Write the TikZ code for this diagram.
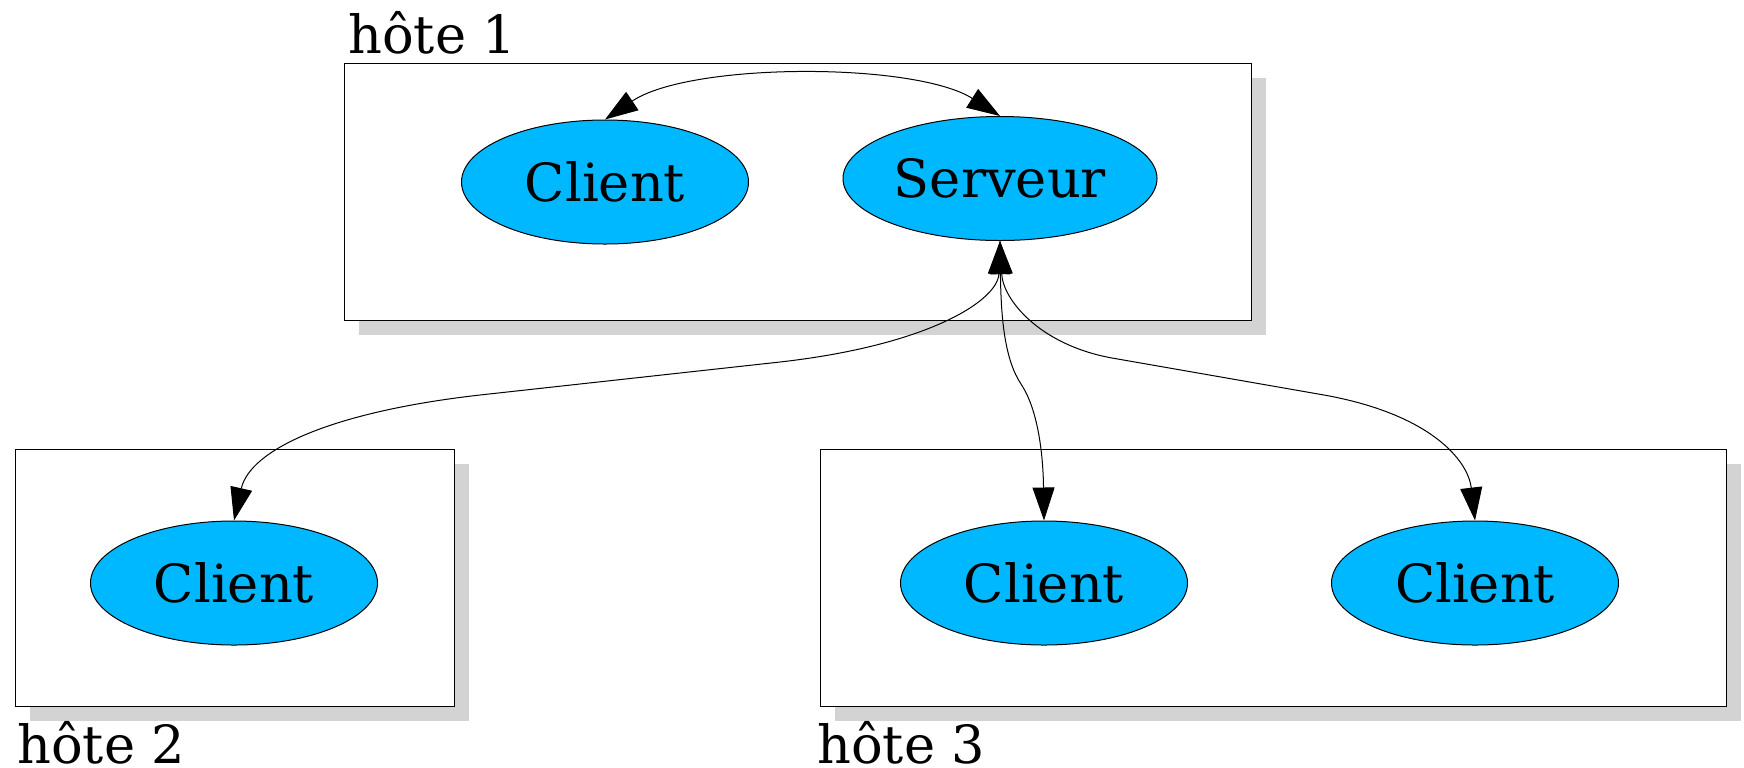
\documentclass[tikz,border=0pt]{standalone}
\usepackage{fontspec}
\setmainfont{DejaVu Serif}
\usetikzlibrary{shapes.geometric,arrows.meta,shadows}
\definecolor{nodeblue}{RGB}{0,184,255}
\definecolor{shadowgray}{RGB}{211,211,211}
\begin{document}
\begin{tikzpicture}[x=0.5pt,y=-0.5pt,
  txt/.style={font=\fontsize{26.3}{30}\selectfont},
  hostbox/.style={draw=black,line width=0.5pt,fill=white,inner sep=0pt,
    drop shadow={shadow xshift=7.5pt,shadow yshift=-7.5pt,fill=shadowgray,opacity=1}},
  proc/.style={ellipse,draw=black,line width=0.5pt,fill=nodeblue,inner sep=0pt,
    minimum width=143.5pt,minimum height=62pt,txt},
  hostlabel/.style={anchor=base west,inner sep=0pt,txt},
  conn/.style={{Triangle[length=16.5pt,width=11pt]}-{Triangle[length=16.5pt,width=11pt]},line width=0.5pt}]
\useasboundingbox (0,0) rectangle (1744,767);
% hosts
\node[hostbox,minimum width=453.5pt,minimum height=128.5pt] (h1) at (797.5,191.5) {};
\node[hostbox,minimum width=219.5pt,minimum height=128.5pt] (h2) at (234.5,577.5) {};
\node[hostbox,minimum width=453pt,minimum height=128.5pt] (h3) at (1273,577.5) {};
\node[hostlabel] (l1) at (348,53) {hôte 1};
\node[hostlabel] (l2) at (17,763) {hôte 2};
\node[hostlabel] (l3) at (817,763) {hôte 3};
% processes
\node[proc] (c1) at (605,182) {Client};
\node[proc,minimum width=157pt] (srv) at (1000,178.5) {Serveur};
\node[proc] (c2) at (234,583) {Client};
\node[proc] (c3) at (1044,583) {Client};
\node[proc] (c4) at (1475,583) {Client};
% connectors
\draw[conn] (c1.north) .. controls (690,62) and (915,62) .. (srv.north);
\draw[conn] (srv.south) .. controls (998,300) and (930,345) .. (780,362)
  -- (480,395) .. controls (330,412) and (250,450) .. (c2.north);
\draw[conn] (srv.south) .. controls (1001,320) and (1005,360) .. (1021,384)
  .. controls (1037,408) and (1043,450) .. (c3.north);
\draw[conn] (srv.south) .. controls (1003,300) and (1040,345) .. (1112,358)
  -- (1324,395) .. controls (1430,414) and (1468,460) .. (c4.north);
\end{tikzpicture}
\end{document}
